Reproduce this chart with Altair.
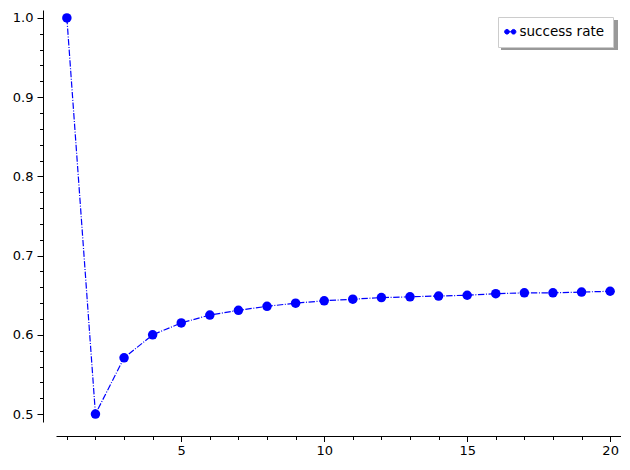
import altair as alt
import pandas as pd
import numpy as np

n_values = list(range(1, 21))
success_rate = [1.0, 0.5, 0.571, 0.600, 0.615, 0.625, 0.631, 0.636, 0.640, 0.643,
                0.645, 0.647, 0.648, 0.649, 0.650, 0.652, 0.653, 0.653, 0.654, 0.655]
series_name = "success rate"

x_ticks = list(range(1, 21))
y_ticks = [round(0.5 + 0.02 * i, 2) for i in range(26)]

df = pd.DataFrame({"n": n_values, "rate": success_rate, "series": series_name})

W, H = 565, 412

xscale = alt.Scale(domain=[0.62, 20.38], nice=False, zero=False)
yscale = alt.Scale(domain=[0.49, 1.01], nice=False, zero=False)
cscale = alt.Scale(domain=[series_name], range=["#0000ff"])

x_axis = alt.Axis(
    values=x_ticks, title=None, grid=False, offset=14,
    labelExpr="datum.value % 5 === 0 ? format(datum.value, 'd') : ''",
    tickSize={"condition": {"test": "datum.value % 5 === 0", "value": 5.5}, "value": 3.5},
    labelFlush=False, labelOverlap=False, labelPadding=3,
)
y_axis = alt.Axis(
    values=y_ticks, title=None, grid=False, offset=13,
    labelExpr="abs(datum.value*10 - round(datum.value*10)) < 1e-6 ? format(datum.value, '.1f') : ''",
    tickSize={"condition": {"test": "abs(datum.value*10 - round(datum.value*10)) < 1e-6", "value": 6}, "value": 3.5},
    labelFlush=False, labelOverlap=False, labelPadding=4,
)

legend_path = ("M -2.71 0 A 0.78 0.78 0 1 0 -1.15 0 A 0.78 0.78 0 1 0 -2.71 0 Z "
               "M -0.51 0 A 0.78 0.78 0 1 0 1.05 0 A 0.78 0.78 0 1 0 -0.51 0 Z "
               "M -1.93 0 L 0.27 0")

legend = alt.Legend(
    title=None, orient="none", legendX=442, legendY=7,
    fillColor="white", strokeColor="#cccccc", padding=8,
    symbolType=legend_path, symbolSize=36, symbolFillColor="#0000ff",
    symbolStrokeColor="#0000ff", symbolStrokeWidth=1, labelOffset=0,
    labelFontSize=13.5, labelColor="black", labelFont="DejaVu Sans", cornerRadius=0,
)

shadow = alt.Chart(pd.DataFrame({"k": [0]})).mark_rect(color="#999999").encode(
    x=alt.value(445), x2=alt.value(562),
    y=alt.value(10), y2=alt.value(40),
)

base = alt.Chart(df).encode(
    x=alt.X("n:Q", scale=xscale, axis=x_axis),
    y=alt.Y("rate:Q", scale=yscale, axis=y_axis),
    color=alt.Color("series:N", scale=cscale, legend=legend),
)

line = base.mark_line(strokeWidth=1.2, strokeDash=[6.4, 1.6, 1, 1.6])
points = base.mark_point(filled=True, size=90, opacity=1, shape="circle")

chart = alt.layer(shadow, line, points).properties(
    width=W, height=H,
    padding={"left": 48, "top": 2, "right": 0, "bottom": 36},
    autosize=alt.AutoSizeParams(type="none"),
).configure_view(stroke=None).configure_axis(
    domainColor="black", domainWidth=1, tickColor="black", tickWidth=1,
    labelColor="black", labelFontSize=13, labelFont="DejaVu Sans",
)

chart.save("out.html", embed_options={"renderer": "svg", "actions": False})
